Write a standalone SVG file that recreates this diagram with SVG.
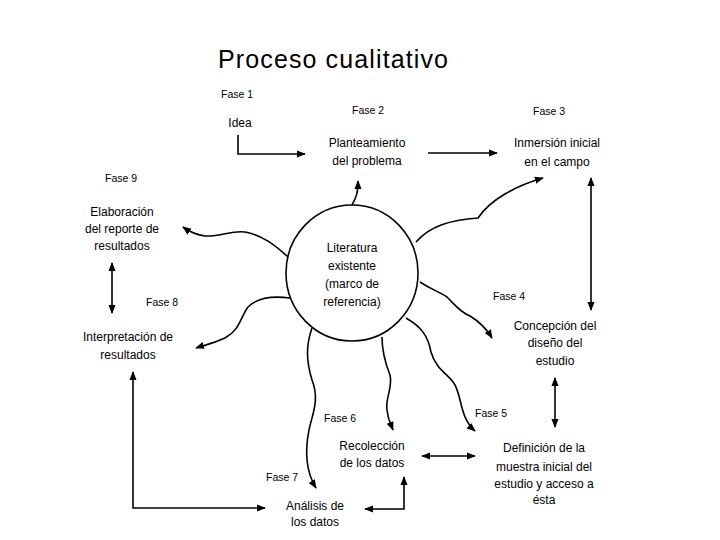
<svg xmlns="http://www.w3.org/2000/svg" width="720" height="540" viewBox="0 0 720 540">
<defs>
<marker id="ah" viewBox="0 0 10 10" refX="9" refY="5" markerWidth="9" markerHeight="9" markerUnits="userSpaceOnUse" orient="auto-start-reverse">
<path d="M0,1 L10,5 L0,9 Z" fill="#000"/>
</marker>
<style>
.t{font-family:"Liberation Sans",Arial,sans-serif;font-size:12px;fill:#000;text-anchor:middle}
.f{font-family:"Liberation Sans",Arial,sans-serif;font-size:10.5px;fill:#000}
.ln{fill:none;stroke:#000;stroke-width:1.6}
.a{marker-end:url(#ah)}
.b{marker-start:url(#ah);marker-end:url(#ah)}
</style>
</defs>
<rect width="720" height="540" fill="#fff"/>
<text x="218" y="68" font-family="Liberation Sans, Arial, sans-serif" font-size="25" textLength="230">Proceso cualitativo</text>

<g id="fases">
<text class="f" x="221" y="98">Fase 1</text>
<text class="f" x="352" y="114">Fase 2</text>
<text class="f" x="533" y="115">Fase 3</text>
<text class="f" x="105" y="182">Fase 9</text>
<text class="f" x="146" y="306">Fase 8</text>
<text class="f" x="493" y="300">Fase 4</text>
<text class="f" x="324" y="422">Fase 6</text>
<text class="f" x="475" y="417">Fase 5</text>
<text class="f" x="266" y="481">Fase 7</text>
</g>

<g id="idea"><text class="t" x="240" y="127">Idea</text></g>
<g id="planteamiento"><text class="t" x="367" y="147">Planteamiento</text><text class="t" x="367" y="165">del problema</text></g>
<g id="inmersion"><text class="t" x="557" y="147">Inmersión inicial</text><text class="t" x="557" y="166">en el campo</text></g>
<g id="elaboracion"><text class="t" x="122" y="216">Elaboración</text><text class="t" x="122" y="233">del reporte de</text><text class="t" x="122" y="250">resultados</text></g>
<g id="interpretacion"><text class="t" x="128" y="341">Interpretación de</text><text class="t" x="128" y="359">resultados</text></g>
<g id="concepcion"><text class="t" x="555" y="330">Concepción del</text><text class="t" x="555" y="347">diseño del</text><text class="t" x="555" y="365">estudio</text></g>
<g id="definicion"><text class="t" x="544" y="452">Definición de la</text><text class="t" x="544" y="471">muestra inicial del</text><text class="t" x="544" y="488">estudio y acceso a</text><text class="t" x="544" y="504">ésta</text></g>
<g id="recoleccion"><text class="t" x="372" y="450">Recolección</text><text class="t" x="372" y="467">de los datos</text></g>
<g id="analisis"><text class="t" x="315" y="510">Análisis de</text><text class="t" x="315" y="526">los datos</text></g>
<g id="literatura">
<ellipse cx="352" cy="273" rx="66" ry="68" fill="none" stroke="#000" stroke-width="1.6"/>
<text class="t" x="352" y="252">Literatura</text>
<text class="t" x="352" y="270">existente</text>
<text class="t" x="352" y="288">(marco de</text>
<text class="t" x="352" y="306">referencia)</text>
</g>

<g id="connectors">
<path class="ln a" d="M238,135 L238,154 L305,154"/>
<path class="ln a" d="M428,153 L497,153"/>
<path class="ln a" d="M352,205 C356,198 358,193 358,181"/>
<path class="ln a" d="M416,242 C430,226 450,220 478,218 C490,200 515,186 543,178"/>
<path class="ln b" d="M591,178 L591,310"/>
<path class="ln a" d="M420,282 C432,290 440,292 447,297 C455,305 460,312 470,316 C480,322 486,328 492,338"/>
<path class="ln a" d="M406,318 C420,326 428,335 431,352 C436,370 450,375 455,385 C462,398 460,418 475,431"/>
<path class="ln a" d="M382,337 C382,350 384,360 390,375 C393,388 385,398 387,410 C388,420 391,425 393,430"/>
<path class="ln a" d="M312,328 C306,345 306,360 312,380 C320,400 312,415 309,430 C305,450 305,470 316,488"/>
<path class="ln a" d="M288,257 C275,245 262,235 245,232 C232,230 220,237 205,236 C196,235 190,232 183,227"/>
<path class="ln a" d="M290,298 C275,296 258,297 248,307 C240,318 240,330 225,338 C212,344 205,345 196,348"/>
<path class="ln b" d="M112,263 L112,313"/>
<path class="ln b" d="M133,372 L133,508 L265,508"/>
<path class="ln b" d="M365,509 L404,509 L404,477"/>
<path class="ln b" d="M422,456 L475,456"/>
<path class="ln b" d="M555,378 L555,427"/>
</g>
</svg>
